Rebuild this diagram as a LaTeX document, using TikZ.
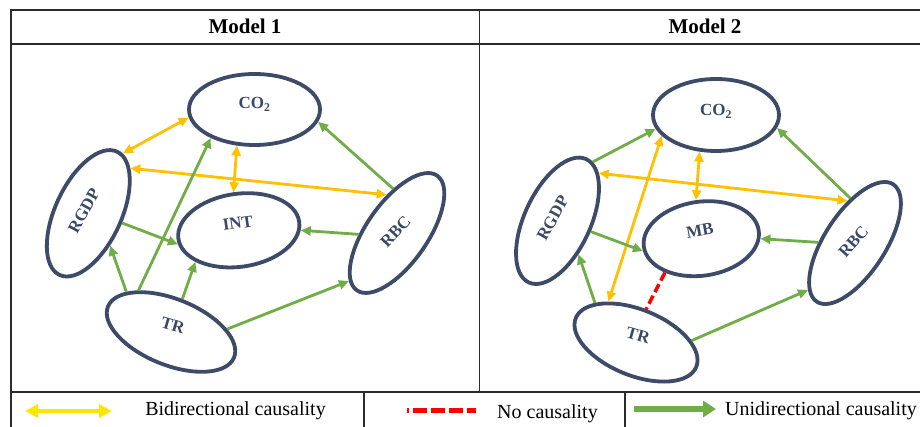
\documentclass[tikz,border=0pt]{standalone}
\usepackage{fontspec}
\setmainfont{Liberation Serif}
\usetikzlibrary{shapes.geometric,arrows.meta}
\definecolor{nodeblue}{HTML}{3D4B69}
\definecolor{labelblue}{HTML}{3A4867}
\definecolor{cgreen}{HTML}{70AD47}
\definecolor{camber}{HTML}{FFC000}
\definecolor{lyellow}{HTML}{FFE600}
\definecolor{cred}{HTML}{FF0000}
\definecolor{framec}{HTML}{2B2B2B}
% label text: rotation relative to the ellipse, raise above centre
\newcommand{\elltext}[3]{\rotatebox{#1}{\raisebox{#2pt}[0pt][0pt]{#3}}}
\begin{document}
\begin{tikzpicture}[x=1pt,y=-1pt,
  ell/.style n args={3}{ellipse, draw=nodeblue, line width=3.8pt, inner sep=0pt,
     minimum width=#1pt, minimum height=#2pt, rotate=#3,
     font=\fontsize{17}{19}\selectfont\bfseries, text=labelblue},
  uni/.style={draw=cgreen, line width=2.8pt, -{Triangle[length=10pt,width=9pt]}},
  bi/.style={draw=camber, line width=2.8pt, {Triangle[length=10pt,width=9pt]}-{Triangle[length=10pt,width=9pt]}},
  nocaus/.style={draw=cred, line width=3.5pt, dash pattern=on 9pt off 4pt},
  rule/.style={draw=framec, line width=1.3pt},
  head/.style={font=\fontsize{21}{24}\selectfont\bfseries, inner sep=0pt},
  leg/.style={font=\fontsize{20}{22}\selectfont, inner sep=0pt}
]
\useasboundingbox (0,0) rectangle (920,427);
\fill[white] (0,0) rectangle (920,427);

% frame
\draw[rule] (11,427) -- (11,10) -- (920,10);
\draw[rule] (11,44) -- (920,44);
\draw[rule] (479.5,10) -- (479.5,392);
\draw[rule] (11,392) -- (920,392);
\draw[rule] (364,392) -- (364,427);
\draw[rule] (625,392) -- (625,427);

\node[head] (h1) at (245,26) {Model 1};
\node[head] (h2) at (705,26) {Model 2};

% Model 1 nodes
\node[ell={131}{71}{0}] (co2a) at (254.5,109.5) {\elltext{0}{0.5}{CO\textsubscript{2}}};
\node[ell={136}{66}{65}] (rgdpa) at (88.3,213.3) {\elltext{-4}{-0.5}{RGDP}};
\node[ell={122}{73}{8}] (inta) at (238.8,230.3) {\elltext{0}{1.5}{INT}};
\node[ell={140}{61}{55}] (rbca) at (397,233) {\elltext{-8}{-3.5}{RBC}};
\node[ell={136}{66}{-22}] (tra) at (171,332) {\elltext{6}{1.5}{TR}};

% Model 1 connectors
\draw[bi] (rgdpa.-5) -- (co2a.187.5);
\draw[bi] (rgdpa.-18) -- (rbca.50);
\draw[bi] (co2a.244) -- (inta.90);
\draw[uni] (rbca.40) -- (co2a.-11);
\draw[uni] (tra.150) -- (co2a.213);
\draw[uni] (rgdpa.-81) -- (inta.185);
\draw[uni] (rbca.127) -- (inta.-8);
\draw[uni] (tra.160) -- (rgdpa.-121);
\draw[uni] (tra.93) -- (inta.208);
\draw[uni] (tra.25) -- (rbca.170);

% Model 2 nodes
\node[ell={126}{72}{0}] (co2b) at (716,115) {\elltext{0}{-0.5}{CO\textsubscript{2}}};
\node[ell={136}{66}{65}] (rgdpb) at (557.5,220.8) {\elltext{-4}{0}{RGDP}};
\node[ell={116}{74}{8}] (mbb) at (701.3,238.7) {\elltext{2}{3}{MB}};
\node[ell={140}{61}{57}] (rbcb) at (855,243) {\elltext{-8}{-3.5}{RBC}};
\node[ell={130}{66}{-22}] (trb) at (636,342.5) {\elltext{6}{2}{TR}};

% Model 2 connectors
\draw[uni] (rgdpb.-6) -- (co2b.193);
\draw[bi] (rgdpb.-16) -- (rbcb.43);
\draw[bi] (co2b.246) -- (mbb.90);
\draw[bi] (co2b.201) -- (trb.146);
\draw[uni] (rgdpb.-83) -- (mbb.184);
\draw[uni] (trb.158) -- (rgdpb.-123);
\draw[nocaus] (mbb.215) -- (trb.95);
\draw[uni] (rbcb.122) -- (mbb.-8);
\draw[uni] (trb.24) -- (rbcb.168);
\draw[uni] (rbcb.39) -- (co2b.-12);

% legend
\coordinate (lyA) at (25,411);
\coordinate (lyB) at (112,411);
\draw[draw=lyellow, line width=4pt, {Triangle[length=13pt,width=13pt]}-{Triangle[length=13pt,width=13pt]}] (lyA) -- (lyB);
\node[leg] (lt1) at (235.5,411) {Bidirectional causality};
\coordinate (lrA) at (407,410);
\coordinate (lrB) at (476,410);
\draw[draw=cred, line width=5pt, dash pattern=on 14pt off 4pt, dash phase=12pt] (lrA) -- (lrB);
\node[leg] (lt2) at (547.5,414) {No causality};
\coordinate (lgA) at (634,409);
\coordinate (lgB) at (716,409);
\draw[draw=cgreen, line width=6pt, -{Triangle[length=13pt,width=16pt]}] (lgA) -- (lgB);
\node[leg, anchor=west] (lt3) at (725,411) {Unidirectional causality};
\end{tikzpicture}
\end{document}
